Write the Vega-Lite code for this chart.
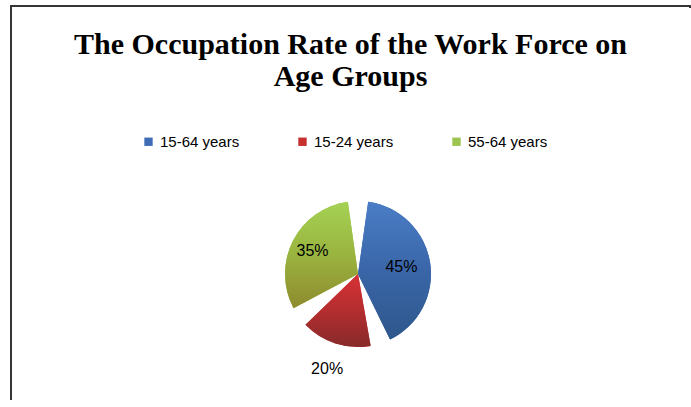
{
  "$schema": "https://vega.github.io/schema/vega-lite/v6.json",
  "width": 691,
  "height": 407,
  "autosize": {"type": "fit", "contains": "padding"},
  "padding": {"left": 10, "top": 5, "right": 0, "bottom": 0},
  "background": "white",
  "config": {"view": {"stroke": null}},
  "title": {
    "text": ["The Occupation Rate of the Work Force on", "Age Groups"],
    "font": "Liberation Serif",
    "fontSize": 30,
    "fontWeight": "bold",
    "color": "#000000",
    "anchor": "middle",
    "frame": "group",
    "offset": -87,
    "lineHeight": 32
  },
  "data": {
    "values": [
      {"group": "15-64 years", "pct": 45, "k": 1, "label": "45%"},
      {"group": "15-24 years", "pct": 20, "k": 2, "label": "20%"},
      {"group": "55-64 years", "pct": 35, "k": 3, "label": "35%"}
    ]
  },
  "layer": [
    {
      "mark": {"type": "rect", "fill": null, "stroke": "#333333", "strokeWidth": 1.5, "strokeDash": [681, 1083, 402]},
      "encoding": {}
    },
    {
      "encoding": {
        "theta": {"field": "pct", "type": "quantitative", "stack": true},
        "order": {"field": "k", "type": "quantitative"}
      },
      "layer": [
        {
          "mark": {"type": "arc", "outerRadius": 73, "padAngle": 0.28, "xOffset": 7.5, "yOffset": 68},
          "encoding": {
            "color": {
              "field": "group",
              "type": "nominal",
              "scale": {"domain": ["15-64 years", "15-24 years", "55-64 years"], "range": ["#3f6db5", "#c8302f", "#9cc44f"]},
              "legend": {
                "orient": "none",
                "legendX": 130,
                "legendY": 128,
                "direction": "horizontal",
                "title": null,
                "symbolType": "square",
                "symbolSize": 70,
                "symbolStrokeWidth": 0,
                "labelFont": "Liberation Sans",
                "labelFontSize": 15,
                "labelColor": "#000000",
                "labelOffset": 4,
                "columnPadding": 55
              }
            }
          }
        },
        {
          "mark": {"type": "arc", "outerRadius": 73, "padAngle": 0.28, "xOffset": 7.5, "yOffset": 68},
          "encoding": {
            "fill": {
              "condition": [
                {"test": "datum.group === '15-64 years'", "value": {"gradient": "linear", "x1": 0, "y1": 0, "x2": 0, "y2": 1, "stops": [{"offset": 0, "color": "#4a7dc6"}, {"offset": 0.5, "color": "#3a66a8"}, {"offset": 1, "color": "#2e578b"}]}},
                {"test": "datum.group === '15-24 years'", "value": {"gradient": "linear", "x1": 0, "y1": 0, "x2": 0, "y2": 1, "stops": [{"offset": 0, "color": "#d63236"}, {"offset": 0.5, "color": "#b42d2f"}, {"offset": 1, "color": "#872a2b"}]}}
              ],
              "value": {"gradient": "linear", "x1": 0, "y1": 0, "x2": 0, "y2": 1, "stops": [{"offset": 0, "color": "#a4d254"}, {"offset": 0.5, "color": "#9ab43f"}, {"offset": 1, "color": "#8e8a2e"}]}
            }
          }
        },
        {
          "mark": {
            "type": "text",
            "font": "Liberation Sans",
            "fontSize": 16,
            "color": "#000000",
            "xOffset": 7.5,
            "yOffset": 68,
            "radius": {"expr": "datum.group === '15-24 years' ? 100 : (datum.group === '55-64 years' ? 51 : 44)"}
          },
          "encoding": {
            "text": {"field": "label", "type": "nominal"}
          }
        }
      ]
    }
  ]
}
